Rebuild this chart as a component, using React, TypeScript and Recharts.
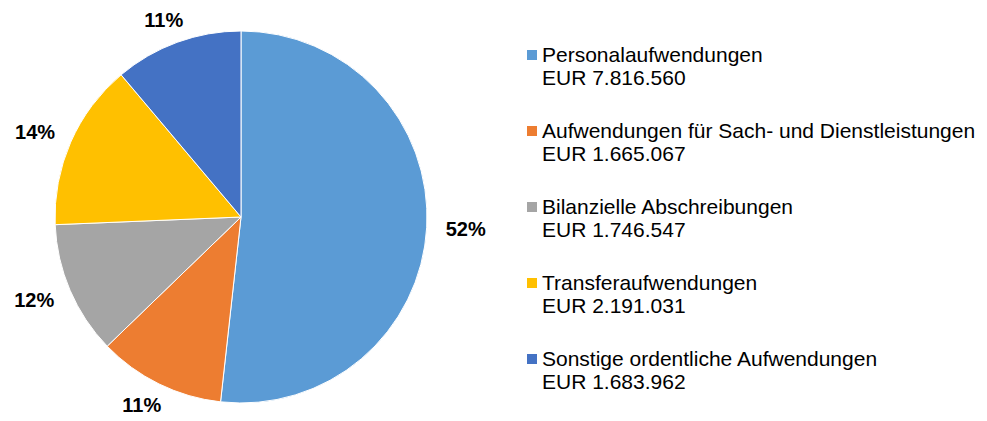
import React from "react";
import { PieChart, Pie, Cell } from "recharts";

const categories = [
  "Personalaufwendungen",
  "Aufwendungen für Sach- und Dienstleistungen",
  "Bilanzielle Abschreibungen",
  "Transferaufwendungen",
  "Sonstige ordentliche Aufwendungen",
];
const amounts = [7816560, 1665067, 1746547, 2191031, 1683962];
const amountLabels = ["EUR 7.816.560", "EUR 1.665.067", "EUR 1.746.547", "EUR 2.191.031", "EUR 1.683.962"];
const colors = ["#5B9BD5", "#ED7D31", "#A5A5A5", "#FFC000", "#4472C4"];

const data = categories.map((name, i) => ({ name, value: amounts[i], amount: amountLabels[i] }));

// whole percentages that add up to 100 (largest remainder)
const total = amounts.reduce((a, b) => a + b, 0);
const raw = amounts.map((v) => (v / total) * 100);
const pct = raw.map(Math.floor);
let left = 100 - pct.reduce((a, b) => a + b, 0);
raw
  .map((v, i) => ({ i, r: v - Math.floor(v) }))
  .sort((a, b) => b.r - a.r)
  .forEach(({ i }) => {
    if (left > 0) {
      pct[i] += 1;
      left -= 1;
    }
  });

const RADIAN = Math.PI / 180;
const FONT = "'Liberation Sans', Arial, sans-serif";

function renderLabel(props: any) {
  const { cx, cy, midAngle, outerRadius, index } = props;
  const dx = Math.cos(-midAngle * RADIAN);
  const dy = Math.sin(-midAngle * RADIAN);
  // label box sits just outside the slice edge
  const x = cx + (outerRadius + 18) * dx + dx * 21;
  const y = cy + (outerRadius + 14) * dy + dy * 10;
  return (
    <text
      x={x}
      y={y}
      textAnchor="middle"
      dominantBaseline="central"
      fill="#000"
      fontFamily={FONT}
      fontSize={20}
      fontWeight="bold"
    >
      {`${pct[index]}%`}
    </text>
  );
}

export default function App() {
  return (
    <div style={{ position: "relative", width: 979, height: 413 }}>
      <PieChart width={979} height={413} margin={{ top: 0, right: 0, bottom: 0, left: 0 }}>
        <Pie
          data={data}
          dataKey="value"
          nameKey="name"
          cx={233}
          cy={209}
          outerRadius={186}
          startAngle={90}
          endAngle={-270}
          stroke="#fff"
          strokeWidth={1}
          label={renderLabel}
          labelLine={false}
          isAnimationActive={false}
        >
          {data.map((d, i) => (
            <Cell key={d.name} fill={colors[i]} />
          ))}
        </Pie>
      </PieChart>
      <div style={{ position: "absolute", left: 519, top: 35, fontFamily: FONT, fontSize: 21, color: "#000" }}>
        {data.map((d, i) => (
          <div key={d.name} style={{ position: "relative", paddingLeft: 15, marginBottom: 30, lineHeight: "23px" }}>
            <span
              style={{ position: "absolute", left: 0, top: 7, width: 10, height: 10, background: colors[i] }}
            />
            <div style={{ whiteSpace: "nowrap" }}>{d.name}</div>
            <div>{d.amount}</div>
          </div>
        ))}
      </div>
    </div>
  );
}
